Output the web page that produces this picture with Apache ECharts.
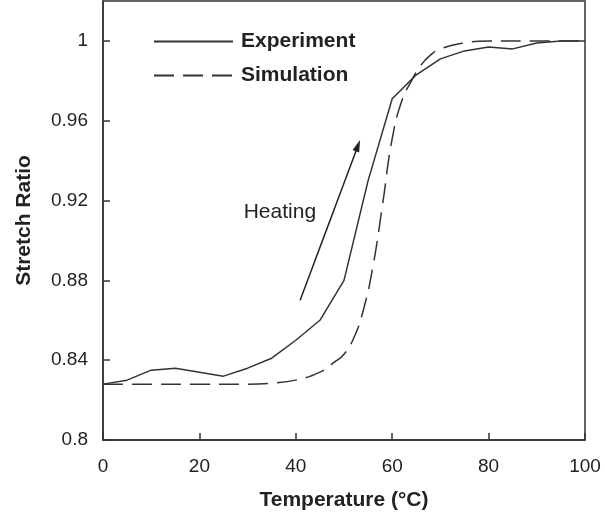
<!DOCTYPE html>
<html><head><meta charset="utf-8">
<script src="https://cdn.jsdelivr.net/npm/echarts@6/dist/echarts.min.js"></script>
<style>html,body{margin:0;padding:0;background:#fff}#c{width:605px;height:521px}</style>
</head><body><div id="c"></div>
<script>
var experiment = [[0,0.828],[5,0.830],[10,0.835],[15,0.836],[20,0.834],[25,0.832],[30,0.836],[35,0.841],[40,0.850],[45,0.860],[50,0.880],[55,0.930],[60,0.971],[65,0.983],[70,0.991],[75,0.995],[80,0.997],[85,0.996],[90,0.999],[95,1.0],[100,1.0]];
var simulation = [[0,0.828],[10,0.828],[20,0.828],[30,0.828],[35,0.8285],[40,0.830],[45,0.834],[48,0.839],[50,0.843],[52,0.851],[54,0.865],[56,0.887],[58,0.918],[60,0.951],[62,0.970],[64,0.980],[66,0.988],[68,0.993],[70,0.996],[75,0.999],[80,1.0],[90,1.0],[100,1.0]];
var xTicks = {min:0, max:100, interval:20};
var yTicks = {min:0.8, max:1.02, interval:0.04};
var arrowStart = [40.9, 0.870], arrowEnd = [52.9, 0.9475];
var heatingLabel = [36.7, 0.914];

var chart = echarts.init(document.getElementById('c'));
var font = '"Liberation Sans", Arial, sans-serif';
chart.setOption({
  animation:false,
  grid:{left:103,right:20,top:1,bottom:81,show:true,borderColor:'#333',borderWidth:1.5,backgroundColor:'transparent'},
  legend:{
    left:148, top:26, orient:'vertical', itemWidth:79, itemHeight:12, itemGap:13,
    itemStyle:{opacity:0},
    textStyle:{fontFamily:font,fontSize:21,fontWeight:'bold',color:'#222',padding:[0,0,0,3]},
    data:['Experiment','Simulation']
  },
  xAxis:{
    type:'value', min:xTicks.min, max:xTicks.max, interval:xTicks.interval,
    name:'Temperature (\u00B0C)', nameLocation:'middle', nameGap:50,
    nameTextStyle:{fontFamily:font,fontSize:21,fontWeight:'bold',color:'#222'},
    axisLine:{lineStyle:{color:'#333',width:1.5}},
    axisTick:{inside:true,length:7,lineStyle:{color:'#333',width:1.5}},
    axisLabel:{fontFamily:font,fontSize:19,color:'#222',margin:17},
    splitLine:{show:false}
  },
  yAxis:{
    type:'value', min:yTicks.min, max:yTicks.max, interval:yTicks.interval,
    name:'Stretch Ratio', nameLocation:'middle', nameGap:68,
    nameTextStyle:{fontFamily:font,fontSize:21,fontWeight:'bold',color:'#222'},
    axisLine:{lineStyle:{color:'#333',width:1.5}},
    axisTick:{inside:true,length:7,lineStyle:{color:'#333',width:1.5}},
    axisLabel:{fontFamily:font,fontSize:19,color:'#222',margin:15,showMaxLabel:false,
      formatter:function(v){return Math.abs(Math.round(v/0.04)*0.04 - v) < 1e-6 ? String(+v.toFixed(2)) : '';}},
    splitLine:{show:false}
  },
  series:[
    {name:'Experiment', type:'line', data:experiment, symbol:'none', smooth:false,
     lineStyle:{color:'#333',width:1.5}, itemStyle:{color:'#333'},
     markLine:{silent:true, symbol:['none','triangle'], symbolSize:[7,12],
       lineStyle:{color:'#222',width:1.5,type:'solid'}, label:{show:false},
       data:[[{coord:arrowStart},{coord:arrowEnd}]]}},
    {name:'Simulation', type:'line', data:simulation, symbol:'none', smooth:true,
     lineStyle:{color:'#333',width:1.5,type:[20,9]}, itemStyle:{color:'#333'}}
  ]
});
var p = chart.convertToPixel({gridIndex:0}, heatingLabel);
chart.setOption({graphic:[{type:'text', x:p[0], y:p[1], silent:true,
  style:{text:'Heating', fontFamily:font, fontSize:21, fill:'#222', align:'center', verticalAlign:'middle'}}]});
</script></body></html>
